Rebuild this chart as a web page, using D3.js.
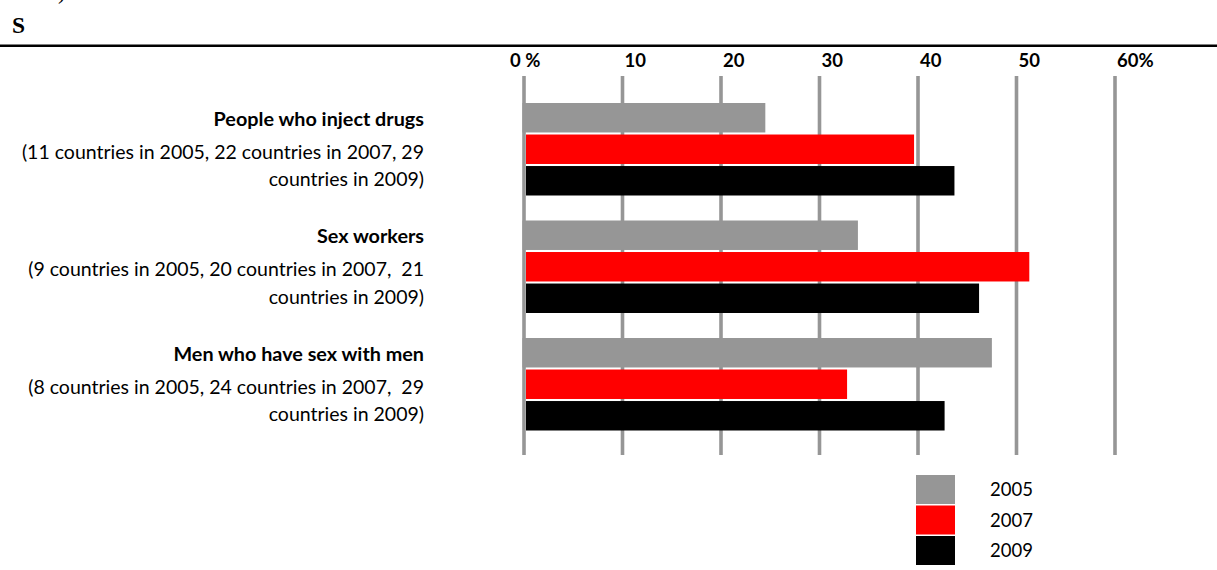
<!DOCTYPE html>
<html>
<head>
<meta charset="utf-8">
<script src="https://cdn.jsdelivr.net/npm/d3@7"></script>
<style>
  html, body { margin: 0; padding: 0; background: #fff; }
  svg { display: block; }
  text { white-space: pre; }
</style>
</head>
<body>
<svg id="chart" width="1217" height="570"></svg>
<script>
// ---- data ----
const categories = ["People who inject drugs", "Sex workers", "Men who have sex with men"];
const noteLine1 = [
  "(11 countries in 2005, 22 countries in 2007, 29",
  "(9 countries in 2005, 20 countries in 2007,  21",
  "(8 countries in 2005, 24 countries in 2007,  29"
];
const noteLine2 = ["countries in 2009)", "countries in 2009)", "countries in 2009)"];
const years = ["2005", "2007", "2009"];
const values2005 = [24.5, 33.9, 47.5];
const values2007 = [39.6, 51.3, 32.8];
const values2009 = [43.7, 46.2, 42.7];
const tickValues = [0, 10, 20, 30, 40, 50, 60];
const tickLabels = ["0 %", "10", "20", "30", "40", "50", "60%"];
const colors = ["#969696", "#ff0000", "#000000"];

// ---- build ----
const series = [values2005, values2007, values2009];
const rows = categories.map((c, i) => ({
  cat: c,
  vals: years.map((y, j) => ({ year: y, j, value: series[j][i] }))
}));

const svg = d3.select("#chart");
const FONT = "Lato, 'Open Sans', sans-serif";

const x = d3.scaleLinear().domain([0, 60]).range([524, 1115]);
const y0 = d3.scaleBand().domain(categories).range([103, 103 + 3 * 117.5]).padding(0);
const y1 = d3.scaleBand().domain(years).range([0, 92.5]).paddingInner(0.065);
const color = d3.scaleOrdinal().domain(years).range(colors);

// header
svg.append("text").attr("x", 58).attr("y", -1)
  .attr("font-family", "'Liberation Serif', serif").attr("font-size", 23).text(")");
svg.append("text").attr("x", 12).attr("y", 33)
  .attr("font-family", "'Liberation Serif', serif").attr("font-weight", "bold")
  .attr("font-size", 23.5).attr("fill", "#000").text("S");
svg.append("line").attr("x1", 0).attr("x2", 1217).attr("y1", 45.7).attr("y2", 45.7)
  .attr("stroke", "#000").attr("stroke-width", 2.4);

// gridlines
svg.append("g").selectAll("line").data(tickValues).join("line")
  .attr("x1", d => x(d)).attr("x2", d => x(d))
  .attr("y1", 76).attr("y2", 455)
  .attr("stroke", "#969696").attr("stroke-width", 3.6);

// tick labels
svg.append("g").selectAll("text").data(tickValues).join("text")
  .attr("x", (d, i) => i === 0 ? x(d) - 14 : x(d) + 2)
  .attr("y", 67)
  .attr("text-anchor", "start")
  .attr("font-family", FONT).attr("font-weight", "bold").attr("font-size", 18.5)
  .attr("fill", "#000")
  .text((d, i) => tickLabels[i]);

// bars
const groups = svg.append("g").selectAll("g").data(rows).join("g")
  .attr("transform", d => `translate(0,${y0(d.cat)})`);
groups.selectAll("rect").data(d => d.vals).join("rect")
  .attr("x", d => d.j === 0 ? x(0) - 1.5 : x(0) + 2)
  .attr("y", d => y1(d.year))
  .attr("width", d => x(d.value) - (d.j === 0 ? x(0) - 1.5 : x(0) + 2))
  .attr("height", y1.bandwidth())
  .attr("fill", d => color(d.year));

// category labels
const lab = svg.append("g").selectAll("g").data(categories).join("g")
  .attr("transform", d => `translate(424,${y0(d)})`)
  .attr("font-family", FONT).attr("fill", "#000").attr("text-anchor", "end");
lab.append("text").attr("y", 22.5).attr("font-weight", "bold").attr("font-size", 19.8).text(d => d);
lab.append("text").attr("y", 55.5).attr("font-size", 19.5).text((d, i) => noteLine1[i]);
lab.append("text").attr("y", 83).attr("font-size", 19.5).text((d, i) => noteLine2[i]);

// legend
const leg = svg.append("g").selectAll("g").data(years).join("g")
  .attr("transform", (d, i) => `translate(916,${475 + i * 30.5})`);
leg.append("rect").attr("width", 39).attr("height", 29).attr("fill", d => color(d));
leg.append("text").attr("x", 74).attr("y", 21).attr("font-family", FONT)
  .attr("font-size", 18.5).attr("fill", "#000").text(d => d);
</script>
</body>
</html>
